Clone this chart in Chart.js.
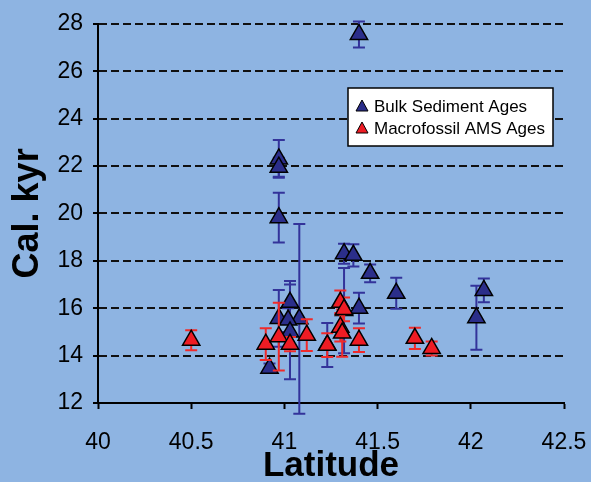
<!DOCTYPE html>
<html>
<head>
<meta charset="utf-8">
<script src="https://cdn.jsdelivr.net/npm/chart.js@4.4.1/dist/chart.umd.min.js"></script>
<style>
  html, body { margin: 0; padding: 0; background: #8eb4e2; }
  canvas { display: block; }
</style>
</head>
<body>
<canvas id="lat-chart" width="591" height="482"></canvas>
<script>
// Bulk sediment ages (latitude, cal kyr, +/- error)
const bulkLat = [41.40, 40.97, 40.97, 40.97, 41.08, 41.32, 41.37, 41.46, 41.40, 41.32,
                 41.60, 42.07, 42.03, 41.03, 40.97, 41.02, 41.03, 40.92, 41.23];
const bulkAge = [27.55, 22.3, 21.95, 19.82, 15.55, 18.3, 18.23, 17.47, 16.0, 15.9,
                 16.63, 16.75, 15.6, 16.25, 15.57, 15.5, 15.0, 13.47, 14.45];
const bulkErr = [0.55, 0.8, 0.4, 1.05, 4.0, 0.42, 0.47, 0.37, 0.65, 1.8,
                 0.65, 0.5, 1.35, 0.9, 1.2, 0.5, 2.0, 0.2, 0.93];

// Macrofossil AMS ages
const amsLat = [40.50, 40.90, 40.97, 41.03, 41.12, 41.23, 41.30, 41.32, 41.30, 41.31,
                41.40, 41.70, 41.79];
const amsAge = [14.65, 14.48, 14.8, 14.48, 14.86, 14.44, 16.25, 15.95, 15.2, 14.95,
                14.65, 14.73, 14.3];
const amsErr = [0.42, 0.67, 1.43, 0.3, 0.67, 0.5, 0.5, 0.5, 0.6, 1.0,
                0.5, 0.45, 0.3];

const xTicks = [40, 40.5, 41, 41.5, 42, 42.5];
const yTicks = [12, 14, 16, 18, 20, 22, 24, 26, 28];

const FONT = "'Liberation Sans', Arial, sans-serif";

// draws vertical error bars with caps, behind each dataset's markers
const errorBars = {
  id: 'errorBars',
  beforeDatasetDraw(chart, args) {
    const ds = chart.data.datasets[args.index];
    const yScale = chart.scales.y;
    const ctx = chart.ctx;
    ctx.save();
    ctx.strokeStyle = ds.errColor;
    ctx.lineWidth = 2;
    args.meta.data.forEach((pt, i) => {
      const v = ds.data[i].y, e = ds.errors[i];
      const top = yScale.getPixelForValue(v + e);
      const bot = yScale.getPixelForValue(v - e);
      ctx.beginPath();
      ctx.moveTo(pt.x, top); ctx.lineTo(pt.x, bot);
      ctx.moveTo(pt.x - 6, top); ctx.lineTo(pt.x + 6, top);
      ctx.moveTo(pt.x - 6, bot); ctx.lineTo(pt.x + 6, bot);
      ctx.stroke();
    });
    ctx.restore();
  }
};

// boxed legend sitting inside the plot, top right
const boxLegend = {
  id: 'boxLegend',
  afterDraw(chart) {
    const ctx = chart.ctx;
    const area = chart.chartArea;
    const bx = area.right - 216, by = 88, bw = 205, bh = 58;
    ctx.save();
    ctx.fillStyle = '#ffffff';
    ctx.fillRect(bx, by, bw, bh);
    ctx.strokeStyle = '#000';
    ctx.lineWidth = 1.5;
    ctx.strokeRect(bx, by, bw, bh);
    ctx.font = '17px ' + FONT;
    ctx.textBaseline = 'middle';
    const sets = [chart.data.datasets[0], chart.data.datasets[1]];
    sets.forEach((ds, i) => {
      const cy = by + 18 + i * 22;
      const cx = bx + 14;
      ctx.beginPath();
      ctx.moveTo(cx, cy - 6);
      ctx.lineTo(cx + 6, cy + 5);
      ctx.lineTo(cx - 6, cy + 5);
      ctx.closePath();
      ctx.fillStyle = ds.backgroundColor;
      ctx.fill();
      ctx.lineWidth = 1;
      ctx.strokeStyle = '#000';
      ctx.stroke();
      ctx.fillStyle = '#000';
      ctx.fillText(ds.label, bx + 26, cy + 1);
    });
    ctx.restore();
  }
};

const ctx = document.getElementById('lat-chart').getContext('2d');
const chart = new Chart(ctx, {
  type: 'scatter',
  data: {
    datasets: [
      {
        label: 'Bulk Sediment Ages',
        data: bulkLat.map((x, i) => ({ x: x, y: bulkAge[i] })),
        errors: bulkErr,
        errColor: '#33339a',
        backgroundColor: '#2b2e8a',
        borderColor: '#000',
        borderWidth: 1.5,
        pointStyle: 'triangle',
        pointRadius: 10,
        order: 2
      },
      {
        label: 'Macrofossil AMS Ages',
        data: amsLat.map((x, i) => ({ x: x, y: amsAge[i] })),
        errors: amsErr,
        errColor: '#f02a2a',
        backgroundColor: '#ee1c24',
        borderColor: '#000',
        borderWidth: 1.5,
        pointStyle: 'triangle',
        pointRadius: 10,
        order: 1
      }
    ]
  },
  options: {
    responsive: false,
    animation: false,
    layout: { padding: { top: 23, right: 27, left: 0, bottom: 0 } },
    plugins: {
      legend: { display: false },
      tooltip: { enabled: false }
    },
    scales: {
      x: {
        type: 'linear',
        min: 40,
        max: 42.5,
        afterBuildTicks: (scale) => { scale.ticks = xTicks.map(v => ({ value: v })); },
        afterFit: (scale) => {
          scale.height = 79;
          // tick padding would otherwise widen the side margins
          scale.paddingLeft = 0;
          scale.paddingRight = 25;
        },
        ticks: {
          autoSkip: false,
          maxRotation: 0,
          color: '#000',
          padding: 20,
          font: { family: FONT, size: 23 },
          callback: (v) => String(v)
        },
        grid: { drawOnChartArea: false, drawTicks: true, tickLength: 6, tickColor: '#000', tickWidth: 2 },
        border: { display: true, color: '#000', width: 2 },
        title: {
          display: true,
          text: 'Latitude',
          color: '#000',
          font: { family: FONT, size: 35, weight: 'bold', lineHeight: 1 },
          padding: { top: 0, bottom: -2 }
        }
      },
      y: {
        type: 'linear',
        min: 12,
        max: 28,
        afterBuildTicks: (scale) => { scale.ticks = yTicks.map(v => ({ value: v })); },
        afterFit: (scale) => { scale.width = 98; },
        ticks: {
          autoSkip: false,
          color: '#000',
          padding: 10,
          font: { family: FONT, size: 23 }
        },
        grid: {
          color: (c) => (c.tick && c.tick.value === 12) ? 'rgba(0,0,0,0)' : '#111',
          lineWidth: 2,
          drawTicks: true,
          tickLength: 5,
          tickColor: '#000',
          tickWidth: 2,
          tickBorderDash: []
        },
        border: { display: true, color: '#000', width: 2, dash: [8, 4] },
        title: {
          display: true,
          text: 'Cal. kyr',
          color: '#000',
          font: { family: FONT, size: 36, weight: 'bold', lineHeight: 1 },
          padding: { top: 10, bottom: 0 }
        }
      }
    }
  },
  plugins: [errorBars, boxLegend]
});
</script>
</body>
</html>
